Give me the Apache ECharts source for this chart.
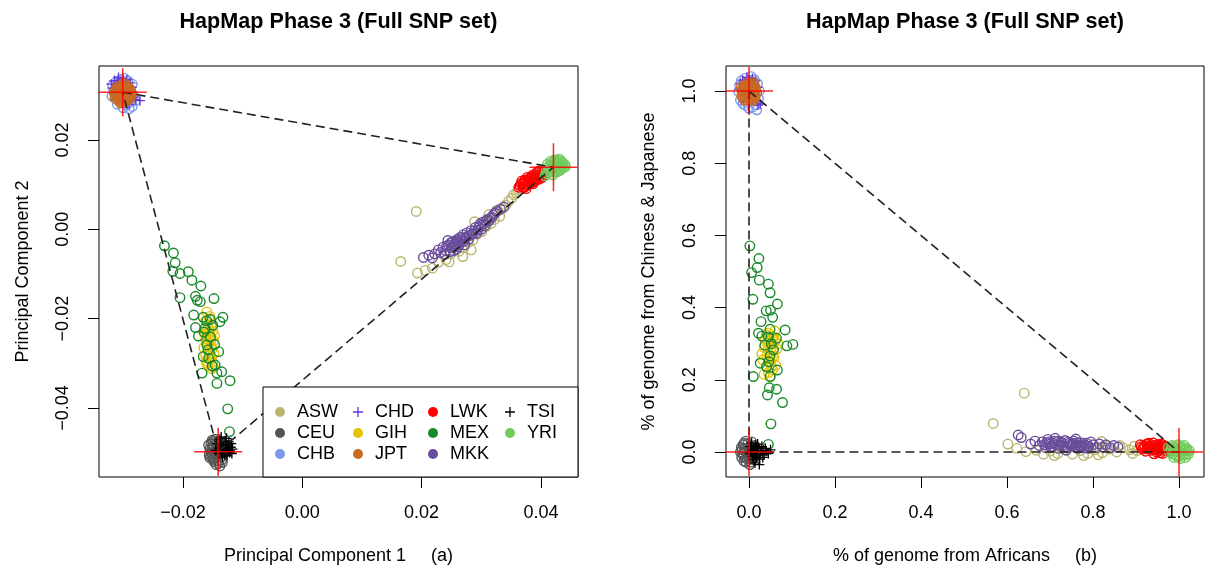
<!DOCTYPE html>
<html><head><meta charset="utf-8">
<script src="https://cdn.jsdelivr.net/npm/echarts@6/dist/echarts.min.js"></script>
<style>html,body{margin:0;padding:0;background:#fff}#c{width:1208px;height:572px}</style>
</head><body><div id="c"></div>
<script>
// ---------- DATA ----------
const populations = ['ASW','CEU','CHB','CHD','GIH','JPT','LWK','MEX','MKK','TSI','YRI'];
const legendColumns = [['ASW','CEU','CHB'],['CHD','GIH','JPT'],['LWK','MEX','MKK'],['TSI','YRI']];
const pcXTicks = [-0.02, 0, 0.02, 0.04];
const pcYTicks = [-0.04, -0.02, 0, 0.02];
const admXTicks = [0, 0.2, 0.4, 0.6, 0.8, 1.0];
const admYTicks = [0, 0.2, 0.4, 0.6, 0.8, 1.0];
const pcVertices = [[-0.0301,0.0307],[0.0421,0.0139],[-0.0141,-0.0498],[-0.0301,0.0307]];
const admVertices = [[0,1],[1,0],[0,0],[0,1]];

// Panel (a): principal components
const ASW_PC = [[0.0191,0.0040],[0.0165,-0.0072],[0.0193,-0.0098],[0.0206,-0.0092],[0.0218,-0.0087],[0.0228,-0.0074],[0.0241,-0.0068],[0.0249,-0.0055],[0.0263,-0.0049],[0.0255,-0.0031],[0.0271,-0.0041],[0.0278,-0.0029],[0.0286,-0.0024],[0.0293,-0.0011],[0.0301,-0.0005],[0.0308,0.0006],[0.0316,0.0013],[0.0322,0.0022],[0.0331,0.0029],[0.0335,0.0046],[0.0341,0.0054],[0.0346,0.0063],[0.0351,0.0069],[0.0354,0.0077],[0.0359,0.0081],[0.0362,0.0089],[0.0289,0.0017],[0.0313,0.0033],[0.0269,-0.0061],[0.0246,-0.0073],[0.0283,-0.0046],[0.0326,0.0043]];
const CEU_PC = [[-0.0145,-0.0495],[-0.0150,-0.0485],[-0.0140,-0.0505],[-0.0153,-0.0500],[-0.0147,-0.0512],[-0.0138,-0.0490],[-0.0150,-0.0475],[-0.0143,-0.0480],[-0.0155,-0.0492],[-0.0148,-0.0520],[-0.0141,-0.0518],[-0.0136,-0.0510],[-0.0152,-0.0508],[-0.0146,-0.0470],[-0.0139,-0.0497],[-0.0144,-0.0527],[-0.0134,-0.0522],[-0.0157,-0.0483],[-0.0149,-0.0502],[-0.0142,-0.0488],[-0.0138,-0.0530],[-0.0147,-0.0498],[-0.0152,-0.0493],[-0.0141,-0.0483],[-0.0156,-0.0505],[-0.0143,-0.0510],[-0.0150,-0.0515],[-0.0137,-0.0502],[-0.0146,-0.0477],[-0.0153,-0.0480],[-0.0140,-0.0524],[-0.0148,-0.0490],[-0.0155,-0.0511],[-0.0144,-0.0503],[-0.0135,-0.0516],[-0.0151,-0.0472],[-0.0142,-0.0495]];
const CHB_PC = [[-0.0305,0.0335],[-0.0298,0.0338],[-0.0312,0.0330],[-0.0292,0.0332],[-0.0318,0.0322],[-0.0302,0.0328],[-0.0285,0.0325],[-0.0316,0.0310],[-0.0283,0.0300],[-0.0319,0.0298],[-0.0288,0.0285],[-0.0295,0.0278],[-0.0285,0.0275],[-0.0300,0.0272],[-0.0290,0.0270],[-0.0310,0.0280],[-0.0280,0.0288],[-0.0296,0.0283],[-0.0308,0.0326],[-0.0300,0.0320]];
const CHD_PC = [[-0.0308,0.0340],[-0.0300,0.0336],[-0.0315,0.0333],[-0.0294,0.0335],[-0.0320,0.0325],[-0.0310,0.0328],[-0.0288,0.0328],[-0.0318,0.0316],[-0.0286,0.0318],[-0.0303,0.0330],[-0.0296,0.0328],[-0.0279,0.0290],[-0.0272,0.0288],[-0.0290,0.0280],[-0.0296,0.0283],[-0.0312,0.0290],[-0.0283,0.0296]];
const GIH_PC = [[-0.0160,-0.0185],[-0.0155,-0.0195],[-0.0162,-0.0205],[-0.0152,-0.0212],[-0.0158,-0.0220],[-0.0150,-0.0228],[-0.0163,-0.0235],[-0.0155,-0.0242],[-0.0149,-0.0250],[-0.0160,-0.0255],[-0.0153,-0.0262],[-0.0158,-0.0270],[-0.0148,-0.0278],[-0.0162,-0.0283],[-0.0154,-0.0290],[-0.0150,-0.0298],[-0.0158,-0.0305],[-0.0152,-0.0312],[-0.0165,-0.0265],[-0.0147,-0.0238],[-0.0157,-0.0230],[-0.0161,-0.0295],[-0.0156,-0.0200],[-0.0151,-0.0218],[-0.0160,-0.0225],[-0.0153,-0.0247],[-0.0157,-0.0258],[-0.0151,-0.0268],[-0.0156,-0.0280],[-0.0152,-0.0287],[-0.0160,-0.0300],[-0.0149,-0.0308],[-0.0155,-0.0235],[-0.0162,-0.0245]];
const JPT_PC = [[-0.0300,0.0305],[-0.0310,0.0312],[-0.0292,0.0298],[-0.0305,0.0290],[-0.0296,0.0318],[-0.0312,0.0300],[-0.0288,0.0310],[-0.0303,0.0322],[-0.0294,0.0288],[-0.0308,0.0296],[-0.0299,0.0313],[-0.0315,0.0308],[-0.0286,0.0302],[-0.0302,0.0284],[-0.0290,0.0316],[-0.0311,0.0318],[-0.0297,0.0300],[-0.0306,0.0307],[-0.0293,0.0307],[-0.0301,0.0296],[-0.0309,0.0289],[-0.0289,0.0292],[-0.0304,0.0315],[-0.0296,0.0325],[-0.0314,0.0294],[-0.0298,0.0292],[-0.0307,0.0302],[-0.0291,0.0301],[-0.0303,0.0309],[-0.0296,0.0311],[-0.0306,0.0298],[-0.0292,0.0305],[-0.0309,0.0305],[-0.0299,0.0286],[-0.0302,0.0318],[-0.0289,0.0297],[-0.0312,0.0311],[-0.0295,0.0295],[-0.0305,0.0283],[-0.0287,0.0308],[-0.0300,0.0326],[-0.0314,0.0302],[-0.0293,0.0320],[-0.0308,0.0316],[-0.0297,0.0303],[-0.0303,0.0293],[-0.0291,0.0313],[-0.0310,0.0293]];
const LWK_PC = [[0.0365,0.0098],[0.0371,0.0103],[0.0374,0.0107],[0.0381,0.0109],[0.0384,0.0114],[0.0391,0.0115],[0.0394,0.0121],[0.0401,0.0123],[0.0405,0.0128],[0.0372,0.0094],[0.0379,0.0100],[0.0388,0.0106],[0.0397,0.0112],[0.0377,0.0116],[0.0386,0.0121],[0.0393,0.0127],[0.0383,0.0104],[0.0368,0.0108],[0.0402,0.0116],[0.0375,0.0091],[0.0390,0.0109],[0.0398,0.0131],[0.0367,0.0102],[0.0376,0.0098],[0.0379,0.0112],[0.0386,0.0109],[0.0389,0.0118],[0.0396,0.0116],[0.0399,0.0126],[0.0404,0.0121],[0.0370,0.0095],[0.0381,0.0106],[0.0392,0.0112],[0.0384,0.0117],[0.0373,0.0110],[0.0395,0.0129],[0.0363,0.0094],[0.0387,0.0102]];
const MEX_PC = [[-0.0231,-0.0037],[-0.0216,-0.0053],[-0.0213,-0.0075],[-0.0217,-0.0094],[-0.0205,-0.0099],[-0.0191,-0.0095],[-0.0185,-0.0114],[-0.0170,-0.0127],[-0.0205,-0.0153],[-0.0179,-0.0150],[-0.0176,-0.0159],[-0.0171,-0.0162],[-0.0148,-0.0155],[-0.0182,-0.0192],[-0.0166,-0.0197],[-0.0154,-0.0202],[-0.0133,-0.0197],[-0.0138,-0.0207],[-0.0179,-0.0220],[-0.0163,-0.0222],[-0.0174,-0.0239],[-0.0154,-0.0241],[-0.0160,-0.0259],[-0.0140,-0.0274],[-0.0166,-0.0285],[-0.0157,-0.0289],[-0.0151,-0.0306],[-0.0146,-0.0304],[-0.0168,-0.0322],[-0.0143,-0.0322],[-0.0135,-0.0319],[-0.0143,-0.0345],[-0.0121,-0.0339],[-0.0125,-0.0402],[-0.0122,-0.0453],[-0.0160,-0.0205],[-0.0150,-0.0215],[-0.0165,-0.0230],[-0.0158,-0.0270],[-0.0147,-0.0258]];
const MKK_PC = [[0.0203,-0.0063],[0.0212,-0.0058],[0.0222,-0.0055],[0.0228,-0.0046],[0.0236,-0.0040],[0.0240,-0.0048],[0.0245,-0.0035],[0.0250,-0.0041],[0.0252,-0.0028],[0.0256,-0.0033],[0.0260,-0.0022],[0.0262,-0.0030],[0.0265,-0.0018],[0.0268,-0.0025],[0.0270,-0.0012],[0.0274,-0.0020],[0.0276,-0.0008],[0.0280,-0.0014],[0.0283,-0.0003],[0.0286,-0.0010],[0.0290,0.0004],[0.0294,-0.0002],[0.0298,0.0012],[0.0302,0.0016],[0.0306,0.0008],[0.0310,0.0022],[0.0315,0.0025],[0.0320,0.0032],[0.0326,0.0040],[0.0332,0.0045],[0.0338,0.0050],[0.0248,-0.0050],[0.0258,-0.0045],[0.0244,-0.0025],[0.0272,-0.0035],[0.0232,-0.0052],[0.0218,-0.0064],[0.0242,-0.0038],[0.0249,-0.0030],[0.0254,-0.0037],[0.0258,-0.0026],[0.0263,-0.0034],[0.0267,-0.0021],[0.0271,-0.0027],[0.0276,-0.0016],[0.0279,-0.0022],[0.0284,-0.0011],[0.0288,-0.0004],[0.0292,-0.0009],[0.0296,0.0005],[0.0300,0.0000],[0.0304,0.0012],[0.0308,0.0018],[0.0313,0.0019],[0.0318,0.0027],[0.0323,0.0036],[0.0253,-0.0048],[0.0261,-0.0039],[0.0239,-0.0056]];
const TSI_PC = [[-0.0140,-0.0490],[-0.0132,-0.0485],[-0.0125,-0.0495],[-0.0135,-0.0500],[-0.0128,-0.0478],[-0.0120,-0.0488],[-0.0138,-0.0470],[-0.0130,-0.0505],[-0.0122,-0.0500],[-0.0117,-0.0492],[-0.0143,-0.0480],[-0.0127,-0.0468],[-0.0134,-0.0510],[-0.0140,-0.0502],[-0.0124,-0.0483],[-0.0131,-0.0492],[-0.0119,-0.0480],[-0.0136,-0.0465],[-0.0126,-0.0507],[-0.0145,-0.0495],[-0.0129,-0.0474],[-0.0121,-0.0496],[-0.0133,-0.0490],[-0.0127,-0.0490],[-0.0137,-0.0483],[-0.0123,-0.0476],[-0.0130,-0.0498],[-0.0118,-0.0502]];
const YRI_PC = [[0.0425,0.0140],[0.0430,0.0145],[0.0420,0.0135],[0.0435,0.0142],[0.0415,0.0130],[0.0428,0.0152],[0.0418,0.0148],[0.0438,0.0138],[0.0422,0.0155],[0.0410,0.0125],[0.0432,0.0132],[0.0426,0.0128],[0.0412,0.0140],[0.0436,0.0150],[0.0420,0.0122],[0.0407,0.0120],[0.0431,0.0157],[0.0416,0.0152],[0.0440,0.0145],[0.0424,0.0146],[0.0428,0.0136],[0.0414,0.0135],[0.0423,0.0138],[0.0433,0.0140],[0.0418,0.0142],[0.0427,0.0148],[0.0437,0.0147],[0.0413,0.0128],[0.0429,0.0130],[0.0421,0.0150],[0.0434,0.0135],[0.0409,0.0132],[0.0441,0.0140],[0.0419,0.0128],[0.0426,0.0155],[0.0411,0.0146],[0.0433,0.0153]];

// Panel (b): admixture proportions (African, Chinese & Japanese)
const ASW_ADM = [[0.568,0.079],[0.640,0.163],[0.602,0.022],[0.623,0.010],[0.644,0.001],[0.668,0.005],[0.685,-0.006],[0.700,0.002],[0.718,-0.004],[0.735,0.006],[0.752,-0.006],[0.770,0.004],[0.788,-0.004],[0.805,0.006],[0.822,-0.002],[0.840,0.008],[0.855,0.000],[0.870,0.012],[0.885,0.006],[0.896,0.016],[0.902,0.004],[0.760,0.012],[0.795,0.010],[0.725,0.014],[0.832,0.016],[0.862,0.018],[0.892,-0.004],[0.710,-0.010],[0.778,-0.010],[0.812,-0.008],[0.820,0.029]];
const CEU_ADM = [[0.000,0.000],[-0.010,0.010],[0.008,-0.008],[-0.015,-0.005],[0.005,0.015],[-0.006,-0.018],[0.010,0.005],[-0.018,0.012],[-0.003,0.022],[0.012,-0.015],[-0.012,-0.025],[0.004,-0.028],[-0.020,0.000],[0.006,0.028],[-0.008,0.030],[0.002,-0.035],[-0.014,0.020],[0.013,0.018],[-0.004,-0.010],[-0.009,0.002],[-0.005,0.005],[0.003,-0.004],[-0.012,-0.012],[0.008,0.010],[-0.016,0.006],[-0.001,0.012],[0.006,-0.020],[-0.007,-0.028],[-0.017,-0.015],[0.010,-0.002],[-0.011,0.024],[0.001,-0.016]];
const CHB_ADM = [[-0.010,1.035],[0.005,1.040],[-0.018,1.028],[0.012,1.032],[-0.022,1.015],[0.020,1.020],[-0.024,0.998],[0.024,1.000],[-0.020,0.975],[0.022,0.978],[-0.008,0.960],[0.008,0.955],[0.016,0.962],[0.000,0.952],[-0.014,0.965],[0.018,0.948],[0.002,1.030],[-0.005,1.025]];
const CHD_ADM = [[-0.005,1.038],[0.008,1.035],[-0.015,1.030],[0.015,1.028],[-0.020,1.020],[0.000,1.030],[-0.010,1.025],[0.010,1.022],[0.020,1.010],[-0.022,1.005],[0.021,0.961],[0.026,0.964],[0.018,0.972],[-0.012,0.970]];
const GIH_ADM = [[0.045,0.330],[0.055,0.320],[0.038,0.312],[0.060,0.305],[0.048,0.298],[0.035,0.290],[0.065,0.285],[0.052,0.278],[0.042,0.268],[0.058,0.262],[0.032,0.255],[0.050,0.250],[0.062,0.240],[0.040,0.238],[0.055,0.228],[0.045,0.220],[0.035,0.215],[0.068,0.300],[0.030,0.272],[0.050,0.210],[0.060,0.335],[0.040,0.325],[0.048,0.312],[0.052,0.290],[0.044,0.282],[0.055,0.265],[0.047,0.258],[0.052,0.236],[0.043,0.300],[0.058,0.318]];
const JPT_ADM = [[0.000,1.000],[-0.012,1.012],[0.010,0.990],[0.004,1.020],[-0.008,0.985],[0.015,1.008],[-0.016,0.998],[0.006,0.978],[-0.004,1.022],[0.012,1.018],[-0.013,0.980],[0.018,0.995],[-0.002,0.992],[0.008,1.005],[-0.010,1.005],[0.002,0.975],[-0.018,1.012],[0.014,0.982],[0.000,1.015],[-0.006,0.995],[0.005,1.010],[0.011,0.975],[-0.014,0.990],[0.003,0.985],[0.006,1.000],[-0.006,1.008],[0.012,0.998],[-0.011,0.996],[0.002,1.018],[0.009,0.982],[-0.003,0.980],[0.016,1.002],[-0.015,1.004],[0.007,1.012],[-0.008,1.016],[0.004,0.990],[-0.005,0.988],[0.013,0.990],[-0.017,0.986],[0.001,1.006],[0.010,1.024],[-0.010,0.975]];
const LWK_ADM = [[0.910,0.020],[0.918,0.012],[0.925,0.022],[0.930,0.008],[0.938,0.016],[0.945,0.010],[0.950,0.020],[0.955,0.004],[0.960,0.014],[0.965,0.008],[0.970,0.002],[0.940,0.025],[0.922,0.002],[0.948,0.000],[0.935,0.005],[0.958,0.022],[0.968,0.016],[0.975,0.006],[0.928,0.015],[0.915,0.008],[0.942,-0.005],[0.962,-0.004],[0.953,0.013],[0.933,0.018],[0.912,0.014],[0.920,0.018],[0.926,0.010],[0.934,0.012],[0.944,0.018],[0.952,0.008],[0.957,0.016],[0.964,0.012],[0.972,0.010],[0.947,0.006],[0.938,0.008],[0.930,0.024],[0.962,0.020],[0.956,-0.002]];
const MEX_ADM = [[0.002,0.571],[0.023,0.536],[0.019,0.511],[0.006,0.497],[0.024,0.476],[0.045,0.465],[0.049,0.441],[0.009,0.423],[0.066,0.410],[0.040,0.391],[0.050,0.393],[0.055,0.373],[0.028,0.361],[0.049,0.340],[0.084,0.338],[0.022,0.329],[0.030,0.321],[0.045,0.319],[0.064,0.315],[0.037,0.296],[0.088,0.294],[0.102,0.298],[0.057,0.283],[0.049,0.266],[0.026,0.246],[0.041,0.236],[0.066,0.227],[0.010,0.209],[0.049,0.209],[0.047,0.178],[0.064,0.174],[0.043,0.158],[0.078,0.137],[0.051,0.078],[0.045,0.021],[0.052,0.300],[0.046,0.250]];
const MKK_ADM = [[0.626,0.047],[0.633,0.040],[0.655,0.022],[0.665,0.030],[0.675,0.018],[0.682,0.028],[0.690,0.012],[0.695,0.035],[0.700,0.022],[0.705,0.015],[0.710,0.030],[0.715,0.020],[0.720,0.010],[0.725,0.028],[0.730,0.018],[0.735,0.032],[0.740,0.012],[0.745,0.024],[0.750,0.016],[0.755,0.030],[0.760,0.020],[0.765,0.010],[0.770,0.026],[0.775,0.018],[0.780,0.012],[0.785,0.024],[0.790,0.016],[0.795,0.028],[0.800,0.020],[0.808,0.012],[0.815,0.022],[0.822,0.014],[0.830,0.020],[0.840,0.012],[0.848,0.018],[0.858,0.014],[0.712,0.038],[0.738,0.005],[0.688,0.020],[0.760,0.036],[0.698,0.028],[0.708,0.024],[0.718,0.030],[0.722,0.018],[0.728,0.024],[0.733,0.014],[0.742,0.028],[0.748,0.020],[0.752,0.024],[0.758,0.014],[0.763,0.026],[0.768,0.018],[0.772,0.014],[0.778,0.024],[0.783,0.018],[0.788,0.010],[0.702,0.014],[0.692,0.026]];
const TSI_ADM = [[0.005,0.000],[0.012,0.008],[0.020,-0.005],[0.008,-0.012],[0.028,0.003],[0.015,0.018],[0.035,-0.008],[0.003,0.015],[0.022,0.012],[0.010,-0.022],[0.040,0.002],[0.018,-0.015],[0.030,0.015],[0.006,0.025],[0.025,-0.020],[0.045,-0.004],[0.014,-0.030],[0.032,-0.015],[0.002,-0.005],[0.050,0.006],[0.020,0.022],[0.038,0.010],[0.016,0.003],[0.024,-0.035],[0.010,0.002],[0.018,0.010],[0.026,-0.006],[0.008,0.006],[0.014,-0.008],[0.033,0.004]];
const YRI_ADM = [[1.000,0.000],[0.990,0.010],[1.010,-0.008],[0.980,0.005],[1.020,0.002],[0.995,-0.012],[1.005,0.015],[0.985,-0.006],[1.015,-0.015],[0.975,0.012],[1.022,-0.005],[0.998,0.020],[1.008,0.006],[0.988,-0.015],[1.018,0.010],[0.978,-0.002],[1.003,-0.018],[0.993,0.003],[1.012,0.018],[0.983,0.018],[0.996,0.006],[1.006,-0.002],[0.986,0.002],[1.014,0.004],[0.992,-0.008],[1.002,0.010],[0.982,0.010],[1.016,-0.008],[1.000,-0.012],[0.990,0.016],[1.010,0.012],[1.024,0.004]];

const pcData = {ASW:ASW_PC,CEU:CEU_PC,CHB:CHB_PC,CHD:CHD_PC,GIH:GIH_PC,JPT:JPT_PC,LWK:LWK_PC,MEX:MEX_PC,MKK:MKK_PC,TSI:TSI_PC,YRI:YRI_PC};
const admData = {ASW:ASW_ADM,CEU:CEU_ADM,CHB:CHB_ADM,CHD:CHD_ADM,GIH:GIH_ADM,JPT:JPT_ADM,LWK:LWK_ADM,MEX:MEX_ADM,MKK:MKK_ADM,TSI:TSI_ADM,YRI:YRI_ADM};

// ---------- STYLE ----------
const popColors = {ASW:'#B8B66E',CEU:'#555555',CHB:'#7B98EE',CHD:'#6238DC',GIH:'#E6C300',JPT:'#C96A22',LWK:'#FF0000',MEX:'#17892A',MKK:'#694D9C',TSI:'#000000',YRI:'#70CC5C'};
const plusPops = ['CHD','TSI'];
const FONT = '"Liberation Sans", Arial, Helvetica, sans-serif';
const PLUS = 'path://M-0.13,-1L0.13,-1L0.13,-0.13L1,-0.13L1,0.13L0.13,0.13L0.13,1L-0.13,1L-0.13,0.13L-1,0.13L-1,-0.13L-0.13,-0.13Z';
const CROSSHAIR = 'path://M-0.032,-1L0.032,-1L0.032,-0.032L1,-0.032L1,0.032L0.032,0.032L0.032,1L-0.032,1L-0.032,0.032L-1,0.032L-1,-0.032L-0.032,-0.032Z';

function fmtMinus(s){ return s.replace('-', '\u2212'); }
function makeAxis(grid, min, max, ticks, dec, isY, name, nameGap){
  return {
    gridIndex: grid, type:'value', min:min, max:max,
    position: isY ? 'left' : 'bottom',
    axisLine:{show:false, onZero:false},
    axisTick:{show:true, customValues:ticks, length:11, inside:false, lineStyle:{color:'#000', width:1}},
    axisLabel:{customValues:ticks, rotate: isY ? 90 : 0, margin:27, fontSize:18, color:'#000', fontFamily:FONT,
      formatter: v => fmtMinus(Number(v).toFixed(dec))},
    splitLine:{show:false},
    name:name, nameLocation:'middle', nameGap:nameGap,
    nameTextStyle:{fontSize:18, color:'#000', fontFamily:FONT}
  };
}

const series = [];
[[0, pcData], [1, admData]].forEach(([g, dataset]) => {
  populations.forEach(p => {
    const plus = plusPops.includes(p);
    series.push({
      type:'scatter', name:p, xAxisIndex:g, yAxisIndex:g, data:dataset[p],
      symbol: plus ? PLUS : 'circle', symbolSize: plus ? 10 : 9.5,
      itemStyle: plus ? {color:popColors[p], borderWidth:0, opacity:1} : {color:'rgba(0,0,0,0)', borderColor:popColors[p], borderWidth:1.4, opacity:1},
      silent:true, z:2
    });
  });
  series.push({type:'line', xAxisIndex:g, yAxisIndex:g, data: g===0 ? pcVertices : admVertices,
    symbol:'none', lineStyle:{color:'#222', width:1.6, type:[9,5]}, silent:true, z:3});
  series.push({type:'scatter', xAxisIndex:g, yAxisIndex:g, data:(g===0 ? pcVertices : admVertices).slice(0,3),
    symbol:CROSSHAIR, symbolSize:48, itemStyle:{color:'rgba(255,0,0,0.85)', borderWidth:0, opacity:1}, silent:true, z:4});
});

const legendLefts = [275, 353, 428, 505];
const legends = legendColumns.map((col, i) => ({
  left: legendLefts[i], top: 403, orient:'vertical', padding:0, itemGap:3,
  itemWidth:24, itemHeight:10, selectedMode:false, z:20,
  textStyle:{fontSize:18, color:'#000', fontFamily:FONT, lineHeight:18},
  data: col.map(p => plusPops.includes(p)
    ? {name:p, icon:PLUS, itemStyle:{color:popColors[p], borderWidth:0, opacity:1}}
    : {name:p, icon:'circle', itemStyle:{color:popColors[p], borderWidth:0, opacity:1}})
}));

const option = {
  animation:false,
  backgroundColor:'#fff',
  grid:[
    {left:99, top:66, width:479, height:411, show:true, borderColor:'#000', borderWidth:1, backgroundColor:'rgba(0,0,0,0)'},
    {left:726, top:66, width:478, height:411, show:true, borderColor:'#000', borderWidth:1, backgroundColor:'rgba(0,0,0,0)'}
  ],
  xAxis:[
    makeAxis(0, -0.03407, 0.04621, pcXTicks, 2, false, 'Principal Component 1     (a)', 70),
    makeAxis(1, -0.0535, 1.0581, admXTicks, 1, false, '% of genome from Africans     (b)', 70)
  ],
  yAxis:[
    makeAxis(0, -0.05546, 0.03656, pcYTicks, 2, true, 'Principal Component 2', 67),
    makeAxis(1, -0.0693, 1.0693, admYTicks, 1, true, '% of genome from Chinese & Japanese', 68)
  ],
  legend: legends,
  graphic:[
    {type:'rect', z:10, shape:{x:263, y:387, width:315, height:90}, style:{fill:'#fff', stroke:'#000', lineWidth:1}},
    {type:'text', z:10, x:338.5, y:22, style:{text:'HapMap Phase 3 (Full SNP set)', align:'center', verticalAlign:'middle', textAlign:'center', textVerticalAlign:'middle', font:'bold 21.6px "Liberation Sans", Arial, sans-serif', fill:'#000'}},
    {type:'text', z:10, x:965, y:22, style:{text:'HapMap Phase 3 (Full SNP set)', align:'center', verticalAlign:'middle', textAlign:'center', textVerticalAlign:'middle', font:'bold 21.6px "Liberation Sans", Arial, sans-serif', fill:'#000'}}
  ],
  series: series
};
const chart = echarts.init(document.getElementById('c'), null, {renderer:'canvas'});
chart.setOption(option);
</script></body></html>
